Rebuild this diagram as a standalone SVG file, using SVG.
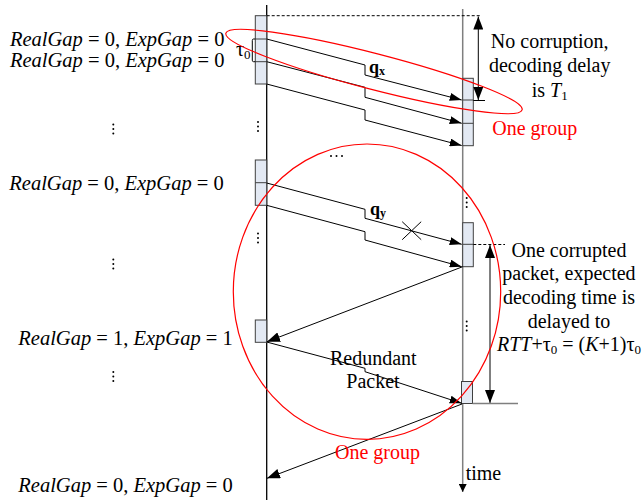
<svg xmlns="http://www.w3.org/2000/svg" width="643" height="502" viewBox="0 0 643 502">
<style>
text{font-family:"Liberation Serif","Times New Roman",serif;font-size:20px;fill:#000}
.it{font-style:italic}
.lbl{font-size:20.5px}
.red{fill:#ff0000}
.sub{font-size:13px}
.box{fill:#e3e9f3;stroke:#404040;stroke-width:1}
.div{stroke:#404040;stroke-width:1}
.ln{fill:none;stroke:#000;stroke-width:1}
.dash{fill:none;stroke:#000;stroke-width:1;stroke-dasharray:3,2}
.grp{fill:none;stroke:#ff0000;stroke-width:1.2}
.dot{fill:#000}
.qb{font-weight:bold;font-size:18px}
</style>
<defs>
<marker id="ah" markerWidth="12" markerHeight="8" refX="12" refY="4" orient="auto" markerUnits="userSpaceOnUse">
<path d="M0,0 L12,4 L0,8 z" fill="#000"/>
</marker>
<marker id="ah2" markerWidth="13" markerHeight="10" refX="13" refY="5" orient="auto-start-reverse" markerUnits="userSpaceOnUse">
<path d="M0,0 L13,5 L0,10 z" fill="#000"/>
</marker>
<marker id="ahs" markerWidth="8" markerHeight="8" refX="8" refY="4" orient="auto" markerUnits="userSpaceOnUse">
<path d="M0,0 L8,4 L0,8 z" fill="#000"/>
</marker>
</defs>

<g id="timelines">
<path d="M266.7,5 L266.7,500" stroke="#000" stroke-width="1.3" fill="none"/>
<path d="M462.7,9 L462.7,492" stroke="#7f7f7f" stroke-width="1.5" fill="none" marker-end="url(#ahs)"/>
<text x="465.7" y="480">time</text>
</g>

<g id="sender-box-1">
<rect class="box" x="255.3" y="15.7" width="11.4" height="68.3"/>
<path class="div" d="M255.3,39 H266.7 M255.3,61.7 H266.7"/>
<path class="ln" d="M255.3,39 H253.5 Q252.3,39 252.3,40.5 V60.2 Q252.3,61.7 253.5,61.7 H255.3"/>
<text x="236" y="55.5" font-size="22">τ<tspan class="sub" dy="3">0</tspan></text>
</g>
<g id="sender-box-2">
<rect class="box" x="255.3" y="160" width="11.4" height="45.3"/>
<path class="div" d="M255.3,182.7 H266.7"/>
</g>
<g id="sender-box-3">
<rect class="box" x="255.3" y="320" width="11.4" height="22.3"/>
</g>
<g id="receiver-box-1">
<rect class="box" x="462.7" y="78.3" width="10.6" height="67.4"/>
<path class="div" d="M462.7,100 H473.3 M462.7,123.3 H473.3"/>
</g>
<g id="receiver-box-2">
<rect class="box" x="462.7" y="222.7" width="10.6" height="44"/>
<path class="div" d="M462.7,244.3 H473.3"/>
</g>
<g id="receiver-box-3">
<rect class="box" x="461.5" y="381.5" width="11" height="22"/>
</g>

<g id="connectors">
<path class="ln" d="M266.7,39 L365,65 L365,75 L461.7,100" marker-end="url(#ah)"/>
<path class="ln" d="M266.7,61.7 L365,87.3 L365,97.3 L461.7,123.3" marker-end="url(#ah)"/>
<path class="ln" d="M266.7,84 L365,110 L365,120 L461.7,145.5" marker-end="url(#ah)"/>
<path class="ln" d="M266.7,183 L365,209.3 L365,218.3 L461.7,244.3" marker-end="url(#ah)"/>
<path class="ln" d="M266.7,205.3 L365,231.7 L365,240 L461.7,266.7" marker-end="url(#ah)"/>
<path class="ln" d="M462.7,266.7 L267,341.7" marker-end="url(#ah2)"/>
<path class="ln" d="M266.7,342 L365,368.3 L365,371.7 L461.7,403.3" marker-end="url(#ah)"/>
<path class="ln" d="M462,404 L267,478.3" marker-end="url(#ah2)"/>
<path class="ln" d="M402.2,221.7 L421.2,239.7 M402.2,239.7 L421.2,221.7"/>
<path class="dash" d="M266.7,15.7 L480,15.7"/>
<path class="dash" d="M473.3,244.5 L505,244.5"/>
<path class="ln" d="M478.3,16.5 L478.3,100" marker-start="url(#ah2)" marker-end="url(#ah2)"/>
<path class="ln" stroke="#404040" d="M473.3,100.5 L485,100.5"/>
<path class="ln" d="M490,245 L490,403" marker-start="url(#ah2)" marker-end="url(#ah2)"/>
<path fill="none" stroke="#7f7f7f" stroke-width="1.3" d="M472.5,403.5 L518,403.5"/>
</g>

<g id="groups">
<ellipse class="grp" cx="374" cy="71.5" rx="153" ry="18" transform="rotate(14.5 374 71.5)"/>
<ellipse class="grp" cx="367" cy="291.7" rx="133.7" ry="147.7"/>
<text class="red" x="492.3" y="134.5">One group</text>
<text class="red" x="335" y="458.5">One group</text>
</g>

<g id="labels">
<text class="lbl" x="10" y="45.5"><tspan class="it">RealGap</tspan> = 0, <tspan class="it">ExpGap</tspan> = 0</text>
<text class="lbl" x="10" y="67"><tspan class="it">RealGap</tspan> = 0, <tspan class="it">ExpGap</tspan> = 0</text>
<text class="lbl" x="9.3" y="189.5"><tspan class="it">RealGap</tspan> = 0, <tspan class="it">ExpGap</tspan> = 0</text>
<text class="lbl" x="18.3" y="345"><tspan class="it">RealGap</tspan> = 1, <tspan class="it">ExpGap</tspan> = 1</text>
<text class="lbl" x="18.3" y="491.5"><tspan class="it">RealGap</tspan> = 0, <tspan class="it">ExpGap</tspan> = 0</text>

<text class="qb" x="369" y="72.5">q<tspan font-size="12" dy="2.5">x</tspan></text>
<text class="qb" x="370" y="214.5">q<tspan font-size="12" dy="2.5">y</tspan></text>

<text text-anchor="middle" x="549.7" y="48">No corruption,</text>
<text text-anchor="middle" x="549.7" y="72">decoding delay</text>
<text text-anchor="middle" x="549.7" y="96.5">is <tspan class="it">T</tspan><tspan class="sub" dy="3">1</tspan></text>

<text text-anchor="middle" x="569" y="256.5">One corrupted</text>
<text text-anchor="middle" x="569" y="280">packet, expected</text>
<text text-anchor="middle" x="569" y="303.5">decoding time is</text>
<text text-anchor="middle" x="569" y="327.5">delayed to</text>
<text text-anchor="middle" x="569" y="351"><tspan class="it">RTT</tspan>+τ<tspan class="sub" dy="3">0</tspan><tspan dy="-3"> = (</tspan><tspan class="it">K</tspan>+1)τ<tspan class="sub" dy="3">0</tspan></text>

<text text-anchor="middle" x="373.3" y="365">Redundant</text>
<text text-anchor="middle" x="373" y="388.3">Packet</text>
</g>

<g id="ellipsis-dots" class="dot">
<circle cx="113.3" cy="124.5" r="1"/><circle cx="113.3" cy="129" r="1"/><circle cx="113.3" cy="133.5" r="1"/>
<circle cx="258" cy="122" r="1"/><circle cx="258" cy="126.5" r="1"/><circle cx="258" cy="131" r="1"/>
<circle cx="113.3" cy="259.5" r="1"/><circle cx="113.3" cy="264" r="1"/><circle cx="113.3" cy="268.5" r="1"/>
<circle cx="258" cy="233.5" r="1"/><circle cx="258" cy="238" r="1"/><circle cx="258" cy="242.5" r="1"/>
<circle cx="113.3" cy="372" r="1"/><circle cx="113.3" cy="376.5" r="1"/><circle cx="113.3" cy="381" r="1"/>
<circle cx="466.7" cy="198" r="1"/><circle cx="466.7" cy="202.5" r="1"/><circle cx="466.7" cy="207" r="1"/>
<circle cx="466.7" cy="321.5" r="1"/><circle cx="466.7" cy="326" r="1"/><circle cx="466.7" cy="330.5" r="1"/>
<circle cx="331" cy="156" r="1"/><circle cx="336.5" cy="156" r="1"/><circle cx="342" cy="156" r="1"/>
</g>
</svg>
